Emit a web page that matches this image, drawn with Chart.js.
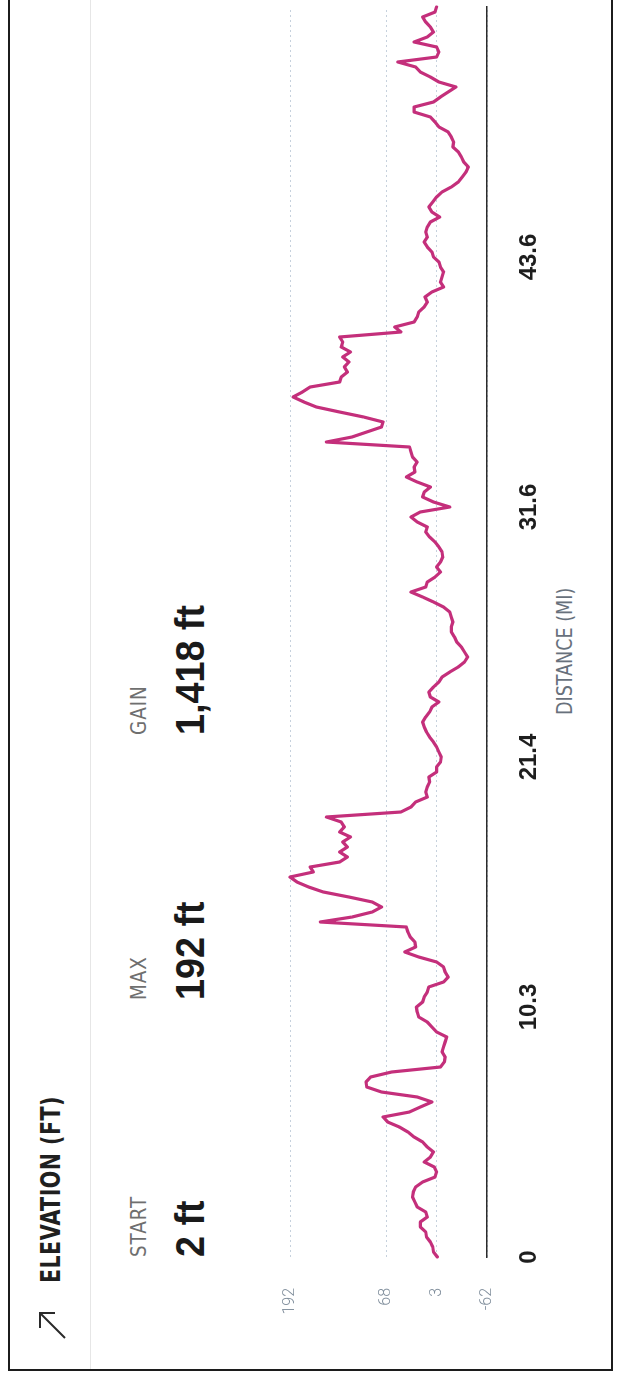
<!DOCTYPE html>
<html>
<head>
<meta charset="utf-8">
<script src="https://cdn.jsdelivr.net/npm/chart.js@4/dist/chart.umd.min.js"></script>
<style>
  html, body { margin:0; padding:0; background:#fff; width:618px; height:1376px; overflow:hidden; }
  #stage { position:absolute; left:0; top:0; width:1376px; height:618px; background:#fff;
           transform-origin:0 0; transform:translate(0,1376px) rotate(-90deg); }
  #card { position:absolute; left:5px; top:8px; width:1420px; height:605px; box-sizing:border-box;
          border:2px solid #1c1c1c; }
  #sep { position:absolute; left:7px; top:90px; width:1380px; height:1px; background:#e6e6e6; }
  .t { position:absolute; line-height:1; white-space:nowrap; transform-origin:0 0; }
  .narrow { font-family:"Liberation Sans Narrow","DejaVu Sans Condensed","Roboto Condensed",sans-serif; }
  #title { left:93px; top:37px; font-size:27px; font-weight:bold; color:#1f1f1f; letter-spacing:0.5px; transform:scaleX(0.85); }
  .lbl { top:129px; font-size:21px; color:#6f6f6f; letter-spacing:1px; transform:scaleX(0.97); }
  .val { top:170px; font-family:"Liberation Sans",Arial,sans-serif; font-size:41px; font-weight:bold; color:#1a1a1a; transform:scaleX(0.92); }
  #xtitle { top:555px; left:661px; font-size:21px; color:#68717c; transform:scaleX(0.93); }
  canvas { position:absolute; left:0; top:0; }
</style>
</head>
<body>
<div id="stage">
  <div id="card"></div>
  <div id="sep"></div>
  <svg class="t" style="left:36px;top:37px" width="30" height="30" viewBox="0 0 30 30">
    <path d="M2 28 L27 3 M12 3 L27 3 L27 18" fill="none" stroke="#2a2a2a" stroke-width="2"/>
  </svg>
  <div id="title" class="t narrow">ELEVATION (FT)</div>
  <div class="t narrow lbl" style="left:119px">START</div>
  <div class="t narrow lbl" style="left:376px">MAX</div>
  <div class="t narrow lbl" style="left:641px">GAIN</div>
  <div class="t val" style="left:119px">2 ft</div>
  <div class="t val" style="left:376px">192 ft</div>
  <div class="t val" style="left:641px">1,418 ft</div>
  <div id="xtitle" class="t narrow">DISTANCE (MI)</div>
  <canvas id="c" width="1376" height="618"></canvas>
</div>
<script>
// Elevation profile (ft), equally spaced samples along the route
const elevationFt = [
  2, 7, 8, 11, 16, 17, 24, 24, 15, 17, 28, 31, 34, 33, 30, 21, 5, 3, 6, 19,
  11, 7, 15, 21, 32, 40, 51, 66, 72, 38, 24, 9,
  28, 74, 93, 94, 88, 61, -2, -7, -8, -4, -6, -8, -10, 3, 9, 15, 26, 28,
  29, 21, 19, 15, 13, -6, -12, -8, -6, 3, 26, 44, 30, 31, 37, 40, 42, 153, 112, 86,
  74, 86, 116, 149, 168, 183, 192, 162, 166, 128, 118, 128, 118, 124, 114, 128, 122,
  126, 145, 49, 36, 30, 15, 17, 15, 12, 13, 3, 3, -2, -3, 0, 3, 7, 12, 16, 19,
  21, 17, 12, 9, 0, 11, 13, 7, 0, -4, -14, -25, -33, -37, -33, -29, -23, -20, -16, -16,
  -18, -16, -14, -6, 7, 21, 36, 17, 15, 5, -2, 3, -2, -5, -4,
  0, 5, 12, 17, 15, 28, 36, 24, -14, 7, 21, 19, 11, 28, 42, 31, 32, 28, 34, 36,
  38, 145, 112, 93, 74, 72, 97, 128, 158, 174, 188, 176, 166, 128, 126, 118, 122, 116, 124, 114,
  126, 124, 128, 49, 57, 32, 28, 26, 19, 15, 18, 9, -6, -2, -4,
  -6, -2, 0, 7, 9, 15, 19, 15, 17, 15, 11, -1, 9, 13, 8, 3, -4, -16, -25, -30,
  -35, -38, -32, -29, -25, -18, -19, -16, -12, 0, 5, 11, 32, 32, 7, -2, -12, -22, 0, 11,
  24, 30, 53, 3, 0, 3, 32, 15, 7, 11, 17, 21, 5, 3
];
// Distance axis tick labels (mi) and the sample index where each sits
const distanceTickLabels = ['0', '10.3', '21.4', '31.6', '43.6'];
const distanceTickIndex = [0, 50, 100, 150, 200];
// Elevation axis ticks (ft)
const elevationTicks = [-62, 3, 68, 192];

const points = elevationFt.map((y, i) => ({ x: i, y: y }));

new Chart(document.getElementById('c').getContext('2d'), {
  type: 'line',
  data: {
    datasets: [{
      data: points,
      borderColor: '#c42f7b',
      borderWidth: 3.2,
      pointRadius: 0,
      tension: 0,
      fill: false,
      clip: false,
      borderJoinStyle: 'round',
      borderCapStyle: 'round'
    }]
  },
  options: {
    responsive: false,
    animation: false,
    devicePixelRatio: 1,
    events: [],
    layout: { padding: { top: 290, right: 7, bottom: 71, left: 0 } },
    plugins: { legend: { display: false }, tooltip: { enabled: false } },
    scales: {
      x: {
        type: 'linear',
        min: 0,
        max: elevationFt.length - 1,
        afterBuildTicks: s => { s.ticks = distanceTickIndex.map(v => ({ value: v })); },
        afterFit: s => { s.height = 60; },
        grid: { display: false, drawTicks: false },
        border: { display: true, color: '#2b2b2b', width: 1.5 },
        ticks: {
          padding: 28, maxRotation: 0, autoSkip: false, color: '#1e1e1e',
          font: { family: '"Liberation Sans", Arial, sans-serif', size: 24, weight: 'bold' },
          callback: (v, i) => distanceTickLabels[i]
        }
      },
      y: {
        min: -62,
        max: 192,
        afterBuildTicks: s => { s.ticks = elevationTicks.map(v => ({ value: v })); },
        afterFit: s => { s.width = 119; },
        grid: { color: '#c6d1dd', lineWidth: 1, drawTicks: false },
        border: { display: false, dash: [2, 3] },
        ticks: {
          padding: 31, color: '#7f8d9b',
          font: { family: 'Roboto, sans-serif', size: 16, weight: '300' }
        }
      }
    }
  }
});
</script>
</body>
</html>
